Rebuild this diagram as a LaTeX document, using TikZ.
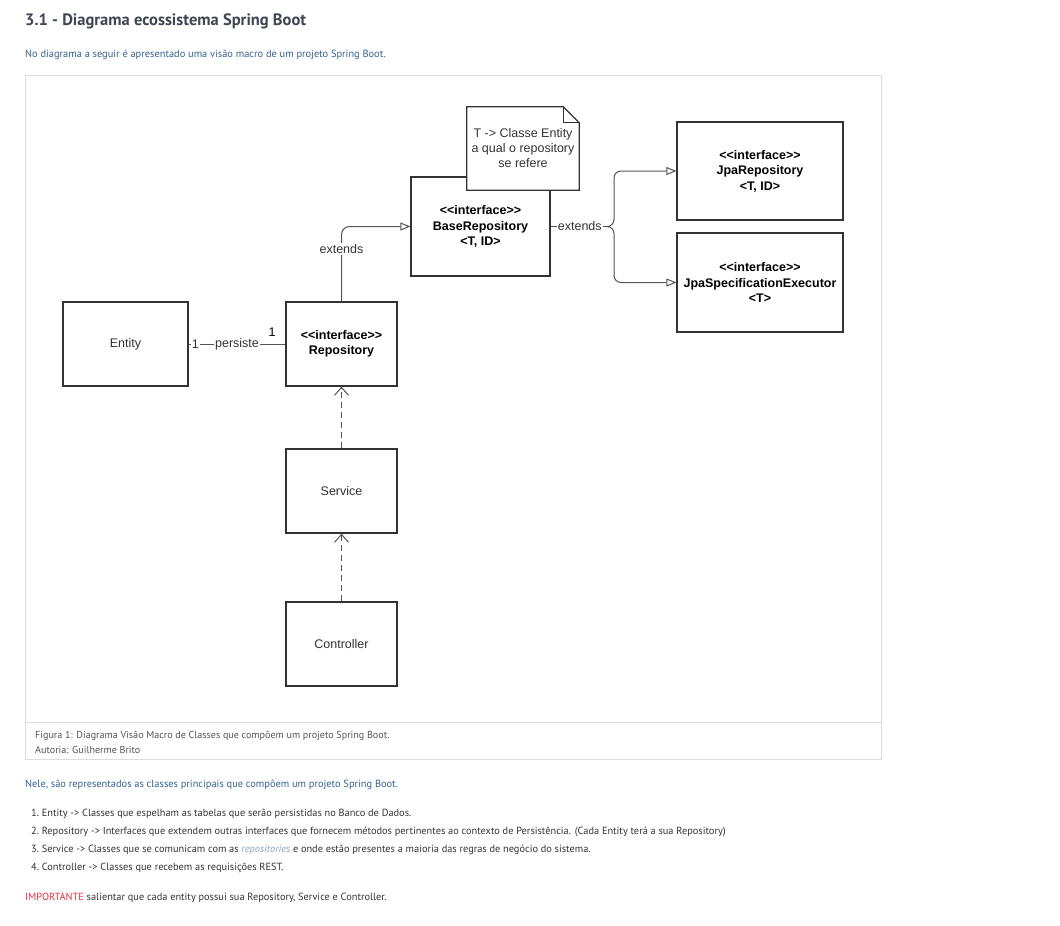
\documentclass[tikz,border=0pt]{standalone}
\usepackage{fontspec}
\setmainfont{Liberation Sans}
\newfontfamily\pagefont{PT Sans}
\usetikzlibrary{arrows.meta}
\definecolor{titlecol}{HTML}{3D4652}
\definecolor{bluetxt}{HTML}{33628F}
\definecolor{captxt}{HTML}{555555}
\definecolor{listtxt}{HTML}{333333}
\definecolor{repcol}{HTML}{8FA3B8}
\definecolor{impred}{HTML}{E8343B}
\definecolor{framecol}{HTML}{DDDDDD}
\definecolor{boxline}{HTML}{333333}
\definecolor{conline}{HTML}{555555}
\tikzset{
  umlbox/.style={draw=boxline, line width=1.2pt, fill=white, rectangle, align=center, inner sep=0pt,
    font=\fontsize{12.5}{15.5}\selectfont, text=black},
  plainlbl/.style={font=\fontsize{12.5}{15.5}\selectfont, text=boxline, fill=white, inner sep=1pt},
  conn/.style={draw=conline, line width=1pt},
  gen/.style={conn, -{Triangle[open, length=10pt, width=8pt]}},
  dep/.style={conn, dashed, dash pattern=on 6pt off 4pt, -{Straight Barb[length=8pt, width=14pt]}},
  pagetxt/.style={anchor=west, inner sep=0pt, font=\pagefont\fontsize{10.4}{12}\selectfont},
  listtxtstyle/.style={pagetxt, text=listtxt, font=\pagefont\fontsize{10.35}{12}\selectfont},
  captstyle/.style={pagetxt, text=captxt, font=\pagefont\fontsize{10.1}{12}\selectfont},
}
\begin{document}
\begin{tikzpicture}[x=1pt, y=-1pt]
\useasboundingbox (0,0) rectangle (1060,926);
\fill[white] (0,0) rectangle (1060,926);

% heading and intro
\node[pagetxt, text=titlecol, font=\pagefont\bfseries\fontsize{16.5}{20}\selectfont] (title) at (25,21.5) {3.1 - Diagrama ecossistema Spring Boot};
\node[pagetxt, text=bluetxt] (intro) at (25,54.5) {No diagrama a seguir é apresentado uma visão macro de um projeto Spring Boot.};

% figure frame
\draw[framecol, line width=1pt] (25,75) rectangle (881,759);
\draw[framecol, line width=1pt] (25,722) -- (881,722);
\node[captstyle] (cap1) at (35,735.5) {Figura 1: Diagrama Visão Macro de Classes que compõem um projeto Spring Boot.};
\node[captstyle] (cap2) at (35,749.5) {Autoria: Guilherme Brito};

% boxes
\node[umlbox, minimum width=125pt, minimum height=84pt, text=boxline] (entity) at (125.5,344) {Entity};
\node[umlbox, minimum width=111pt, minimum height=84pt] (repo) at (341.5,344) {\textbf{<{}<interface>{}>}\\\textbf{Repository}};
\node[umlbox, minimum width=139pt, minimum height=99pt] (base) at (480.5,226.5) {\textbf{<{}<interface>{}>}\\\textbf{BaseRepository}\\\textbf{<T, ID>}};
\node[umlbox, minimum width=166pt, minimum height=98pt] (jpa) at (760,171) {\textbf{<{}<interface>{}>}\\\textbf{JpaRepository}\\\textbf{<T, ID>}};
\node[umlbox, minimum width=166pt, minimum height=99pt] (spec) at (760,282.5) {\textbf{<{}<interface>{}>}\\\textbf{JpaSpecificationExecutor}\\\textbf{<T>}};
\node[umlbox, minimum width=111pt, minimum height=84pt, text=boxline] (service) at (341.5,491) {Service};
\node[umlbox, minimum width=111pt, minimum height=84pt, text=boxline] (controller) at (341.5,644) {Controller};

% note
\node[minimum width=112pt, minimum height=83pt, inner sep=0pt] (note) at (523,148.5) {};
\draw[boxline, line width=1.2pt, fill=white]
  (note.north west) -- ([xshift=-16pt]note.north east) -- ([yshift=-16pt]note.north east)
  -- (note.south east) -- (note.south west) -- cycle;
\draw[boxline, line width=1pt] ([xshift=-16pt]note.north east) -- ([xshift=-16pt,yshift=-16pt]note.north east) -- ([yshift=-16pt]note.north east);
\node[align=center, font=\fontsize{12.5}{15}\selectfont, text=boxline, inner sep=0pt] (notetxt) at (note.center) {T -> Classe Entity\\a qual o repository\\se refere};

% connectors
\draw[conn] (entity.east) -- node[plainlbl, pos=0.07] (m1) {1} node[plainlbl, pos=0.5] (pl) {persiste} (repo.west);
\node[font=\fontsize{12.5}{15}\selectfont, text=black, inner sep=0pt] (m2) at (272,332) {1};

\draw[gen, rounded corners=8pt] (repo.north) |- (base.west);
\node[plainlbl] (ext1) at (341.5,249) {extends};

\coordinate (split) at (609,226.5);
\draw[conn] (base.east) -- node[plainlbl] (ext2) {extends} (split);
\draw[gen, rounded corners=7pt] (split) -| (614,171) -- (jpa.west);
\draw[gen, rounded corners=7pt] (split) -| (614,282.5) -- (spec.west);

\draw[dep] (service.north) -- (repo.south);
\draw[dep] (controller.north) -- (service.south);

% text below
\node[pagetxt, text=bluetxt] (nele) at (25,784.5) {Nele, são representados as classes principais que compõem um projeto Spring Boot.};
\node[listtxtstyle] (l1) at (31,813.5) {1.\ Entity -> Classes que espelham as tabelas que serão persistidas no Banco de Dados.};
\node[listtxtstyle] (l2) at (31,831.5) {2.\ Repository -> Interfaces que extendem outras interfaces que fornecem métodos pertinentes ao contexto de Persistência. (Cada Entity terá a sua Repository)};
\node[listtxtstyle] (l3) at (31,849.5) {3.\ Service -> Classes que se comunicam com as \textcolor{repcol}{\itshape repositories} e onde estão presentes a maioria das regras de negócio do sistema.};
\node[listtxtstyle] (l4) at (31,867.5) {4.\ Controller -> Classes que recebem as requisições REST.};
\node[listtxtstyle] (imp) at (25,897.5) {\textcolor{impred}{IMPORTANTE} salientar que cada entity possui sua Repository, Service e Controller.};
\end{tikzpicture}
\end{document}
